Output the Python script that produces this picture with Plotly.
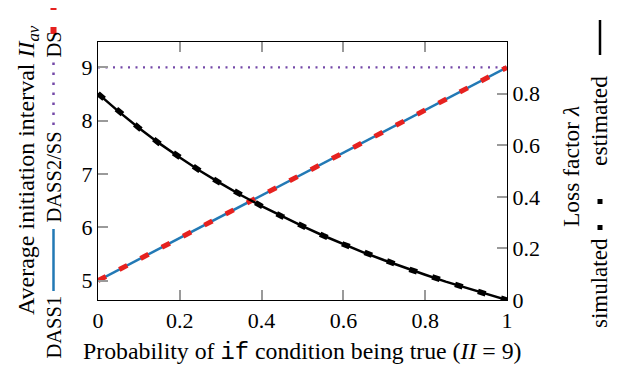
import plotly.graph_objects as go

# ---- data ----
p = [0.00, 0.05, 0.10, 0.15, 0.20, 0.25, 0.30, 0.35, 0.40, 0.45, 0.50,
     0.55, 0.60, 0.65, 0.70, 0.75, 0.80, 0.85, 0.90, 0.95, 1.00]
ii_dass1 = [5.0, 5.2, 5.4, 5.6, 5.8, 6.0, 6.2, 6.4, 6.6, 6.8, 7.0,
            7.2, 7.4, 7.6, 7.8, 8.0, 8.2, 8.4, 8.6, 8.8, 9.0]
ii_ds = [5.0, 5.2, 5.4, 5.6, 5.8, 6.0, 6.2, 6.4, 6.6, 6.8, 7.0,
         7.2, 7.4, 7.6, 7.8, 8.0, 8.2, 8.4, 8.6, 8.8, 9.0]
p_ends = [0.0, 1.0]
ii_dass2 = [9.0, 9.0]
lam_est = [0.800, 0.731, 0.667, 0.607, 0.552, 0.500, 0.452, 0.406, 0.364, 0.324, 0.286,
           0.250, 0.216, 0.184, 0.154, 0.125, 0.098, 0.071, 0.047, 0.023, 0.000]
lam_sim = [0.800, 0.731, 0.667, 0.607, 0.552, 0.500, 0.452, 0.406, 0.364, 0.324, 0.286,
           0.250, 0.216, 0.184, 0.154, 0.125, 0.098, 0.071, 0.047, 0.023, 0.000]
x_ticks = [0, 0.2, 0.4, 0.6, 0.8, 1]
x_ticktext = ["0", "0.2", "0.4", "0.6", "0.8", "1"]
y_ticks = [5, 6, 7, 8, 9]
y2_ticks = [0, 0.2, 0.4, 0.6, 0.8]
y2_ticktext = ["0", "0.2", "0.4", "0.6", "0.8"]

BLUE = "#2279b5"
RED = "#e6211f"
PURPLE = "#7448a8"
FONT = "Liberation Serif"
TICK_FS = 22

# page body has an 8px margin: lay out in window pixels and shift
OFF = 8
WIN_W, WIN_H = 625, 371
PL, PR, PT, PB = 98, 507, 42, 300   # plot area in window pixels
W, H = WIN_W - OFF, WIN_H - OFF
L = PL - OFF
T = PT - OFF
R = W - L - (PR - PL)
B = H - T - (PB - PT)


def px(x):
    return (x - PL) / (PR - PL)


def py(y):
    return (PB - y) / (PB - PT)


fig = go.Figure()
fig.add_trace(go.Scatter(x=p, y=ii_dass1, mode="lines", line=dict(color=BLUE, width=2.5), yaxis="y"))
fig.add_trace(go.Scatter(x=p_ends, y=ii_dass2, mode="lines",
                         line=dict(color=PURPLE, width=2.2, dash="2px,5.5px"), yaxis="y"))
fig.add_trace(go.Scatter(x=p, y=ii_ds, mode="lines",
                         line=dict(color=RED, width=5, dash="9px,15px"), yaxis="y"))
fig.add_trace(go.Scatter(x=p, y=lam_sim, mode="lines",
                         line=dict(color="black", width=5.5, dash="8px,16px"), yaxis="y2"))
fig.add_trace(go.Scatter(x=p, y=lam_est, mode="lines", line=dict(color="black", width=2.5), yaxis="y2"))

tickstyle = dict(ticks="inside", ticklen=10, tickwidth=1.5, tickcolor="#9a9a9a",
                 showline=True, linecolor="black", linewidth=1.3, showgrid=False,
                 zeroline=False, tickfont=dict(family=FONT, size=TICK_FS, color="black"))

fig.update_layout(
    width=W, height=H, margin=dict(l=L, r=R, t=T, b=B, autoexpand=False),
    paper_bgcolor="white", plot_bgcolor="white", showlegend=False,
    font=dict(family=FONT, size=22, color="black"),
    xaxis=dict(range=[0, 1], tickvals=x_ticks, ticktext=x_ticktext, mirror="ticks", **tickstyle),
    yaxis=dict(range=[4.636, 9.477], tickvals=y_ticks, **tickstyle),
    yaxis2=dict(range=[0, 1.0], tickvals=y2_ticks, ticktext=y2_ticktext, overlaying="y",
                side="right", **tickstyle),
)


def ann(text, x, y, size, angle=-90):
    fig.add_annotation(text=text, x=px(x), y=py(y), xref="paper", yref="paper",
                       showarrow=False, textangle=angle, xanchor="center", yanchor="middle",
                       font=dict(family=FONT, size=size, color="black"))


# axis titles
ann("Probability of <span style='font-family:Liberation Mono'>if</span> condition being true (<i>II</i> = 9)",
    302, 352, 23.8, angle=0)
ann("Average initiation interval <i>II</i><sub><i>av</i></sub>", 28, 170, 24)
ann("Loss factor <i>λ</i>", 571, 167, 23.5)

# left legend row
ann("DASS1", 53.5, 327, 20.5)
ann("DASS2/SS", 53.5, 177, 20.5)
ann("DS", 53.5, 45, 20.5)
fig.add_shape(type="line", xref="paper", yref="paper", x0=px(53.5), x1=px(53.5), y0=py(291), y1=py(229),
              line=dict(color=BLUE, width=2.5))
fig.add_shape(type="line", xref="paper", yref="paper", x0=px(53.5), x1=px(53.5), y0=py(125), y1=py(62),
              line=dict(color=PURPLE, width=2.5, dash="2.5px,7.5px"))
fig.add_shape(type="line", xref="paper", yref="paper", x0=px(53.5), x1=px(53.5), y0=py(34), y1=py(-10),
              line=dict(color=RED, width=6, dash="7px,17px"))

# right legend row
ann("simulated", 599, 283, 23)
ann("estimated", 599, 121, 23.5)
fig.add_shape(type="line", xref="paper", yref="paper", x0=px(600), x1=px(600), y0=py(230), y1=py(190),
              line=dict(color="black", width=5, dash="5px,21px"))
fig.add_shape(type="line", xref="paper", yref="paper", x0=px(600), x1=px(600), y0=py(55), y1=py(20),
              line=dict(color="black", width=2.5))

fig.write_html("out.html")
